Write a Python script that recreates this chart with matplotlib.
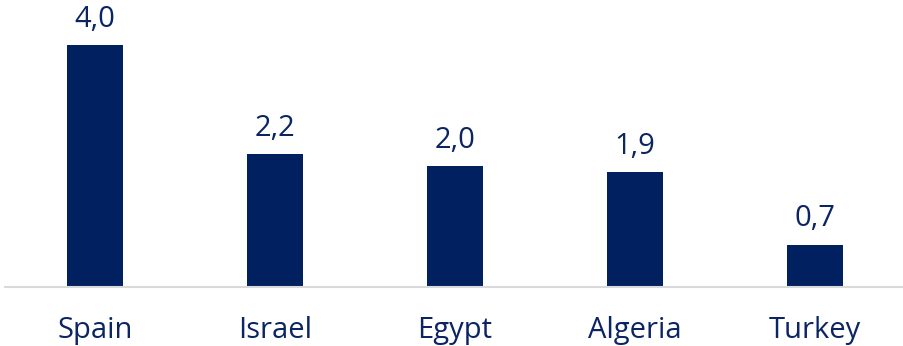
import matplotlib
matplotlib.use("Agg")
import matplotlib.pyplot as plt

# =========================
# Data
# =========================

countries = ["Spain", "Israel", "Egypt", "Algeria", "Turkey"]
values = [4.0, 2.2, 2.0, 1.9, 0.7]

bar_color = "#002060"
text_color = "#0B2463"

plt.rcParams["font.family"] = ["Open Sans", "DejaVu Sans"]

fig = plt.figure(figsize=(9.04, 3.46), dpi=100)
ax = fig.add_axes([5 / 904, 59 / 346, 900 / 904, 287 / 346])

x = range(len(countries))
bars = ax.bar(x, values, width=0.31, color=bar_color, zorder=2)

for i, v in zip(x, values):
    ax.text(i, v + 0.3, f"{v:.1f}".replace(".", ","), ha="center", va="baseline",
            fontsize=21, color=text_color)

ax.set_xlim(-0.5, len(countries) - 0.5)
ax.set_ylim(0, 287 / 60.5)
ax.set_xticks(list(x))
ax.set_xticklabels(countries, fontsize=21, color=text_color)
ax.tick_params(axis="x", length=0, pad=21)
ax.set_yticks([])

for side in ["top", "right", "left"]:
    ax.spines[side].set_visible(False)
ax.spines["bottom"].set_color("#D9D9D9")
ax.spines["bottom"].set_linewidth(1.5)

fig.savefig("out.png", dpi=100)
